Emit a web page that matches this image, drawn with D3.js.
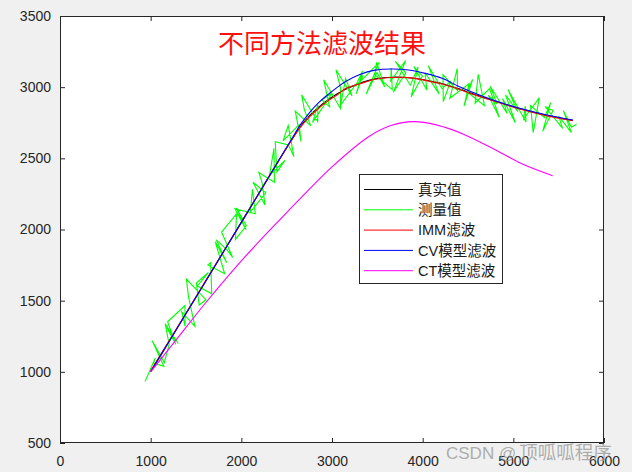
<!DOCTYPE html>
<html>
<head>
<meta charset="utf-8">
<script src="https://cdn.jsdelivr.net/npm/d3@7"></script>
<style>
  html, body { margin: 0; padding: 0; background: #f0f0f0; }
  svg { display: block; }
</style>
</head>
<body>
<svg id="chart" width="632" height="472"></svg>
<script>
// ---------------- data ----------------
const titleText = "不同方法滤波结果";
const legendLabels = ["真实值", "测量值", "IMM滤波", "CV模型滤波", "CT模型滤波"];
const seriesColors = ["#000000", "#00ff00", "#ff0000", "#0000ff", "#ff00ff"];
const xTicks = [0, 1000, 2000, 3000, 4000, 5000, 6000];
const yTicks = [500, 1000, 1500, 2000, 2500, 3000, 3500];

// true trajectory
const trueX = [1000,1200,1400,1600,1800,2000,2200,2400,2550,2650,2750,2850,2950,3050,3150,3300,3475,3660,3845,4029,4214,4400,4550,4800,5050,5360,5656];
const trueY = [1000,1210,1420,1630,1840,2050,2260,2470,2625,2722,2798,2858,2908,2950,2985,3025,3058,3070,3066,3050,3025,2988,2955,2902,2853,2803,2767];

// measurements
const measX = [938,1051,1033,1146,1017,1150,1204,1160,1305,1177,1277,1187,1378,1380,1343,1488,1418,1394,1611,1535,
  1504,1637,1515,1673,1662,1631,1816,1713,1839,1724,1850,1904,1782,1947,1935,2055,1946,2052,1930,2154,
  2123,2099,2270,2129,2261,2230,2193,2365,2360,2310,2481,2392,2374,2520,2580,2517,2460,2638,
  2659,2595,2766,2696,2665,2842,2844,2786,3003,2887,2973,2909,3093,3095,3044,3221,3151,3094,3278,3338,
  3267,3341,3290,3519,3377,3496,3582,3492,3474,3665,3653,3648,3812,3677,3815,3699,3864,3950,3873,3998,3902,4047,4028,
  4034,4181,4061,4214,4309,4227,4224,4384,4381,4300,4512,4456,4551,4489,4682,4613,4578,4738,4845,4725,
  4820,4745,4931,4882,5022,4915,5049,4941,5140,5131,5114,5287,5219,5190,5343,5412,5324,5438,5350,5543,5500,5641,5553,5641,5697];
const measY = [931,1097,1061,1039,1218,1065,1192,1338,1199,1313,1193,1352,1466,1320,1421,1320,1525,1652,1506,1470,
  1624,1698,1603,1549,1767,1751,1689,1913,1767,1927,1852,1803,1982,2110,1930,2026,2152,1999,2146,2110,
  2283,2123,2257,2332,2172,2326,2401,2332,2570,2378,2486,2404,2616,2594,2512,2731,2623,2737,
  2617,2832,2728,2839,2947,2759,2878,2753,2959,2911,2862,3052,2850,2993,3122,2939,3061,2874,3033,3114,
  2953,3084,3025,3174,2952,3103,3001,3174,3086,2983,3135,3044,3187,2965,3101,3182,3014,3142,2931,3078,3145,2979,3085,
  3095,2953,3151,2989,3043,2899,3087,2976,3131,2922,3025,2867,3054,2968,2870,3090,2887,2990,2787,2943,
  2882,3006,2816,2920,2750,2945,2827,2983,2756,2867,2776,2927,2681,2870,2786,2891,2690,2836,2864,2710,2796,2681,2834,2719,2740];

// IMM filter
const immX = [1000,1200,1400,1600,1800,2000,2200,2400,2550,2650,2750,2850,2950,3050,3150,3300,3475,3660,3845,4029,4214,4400,4550,4800,5050,5360,5656];
const immY = [1008,1215,1422,1632,1842,2050,2262,2472,2624,2718,2790,2850,2902,2942,2990,3022,3056,3068,3067,3048,3022,2985,2950,2900,2850,2800,2765];

// CV model filter
const cvX = [1000,1200,1400,1600,1800,2000,2200,2400,2550,2650,2750,2850,2950,3050,3150,3300,3475,3660,3845,4029,4214,4400,4550,4800,5050,5360,5656];
const cvY = [1000,1210,1420,1630,1840,2050,2260,2472,2630,2735,2820,2890,2945,2995,3040,3088,3120,3128,3121,3097,3062,3005,2965,2905,2855,2806,2769];

// CT model filter
const ctX = [1000,1300,1600,2000,2440,2700,3000,3400,3650,3900,4150,4450,4800,5100,5434];
const ctY = [1000,1240,1480,1780,2079,2250,2440,2650,2730,2758,2735,2670,2560,2460,2378];

// ---------------- chart ----------------
const svg = d3.select("#chart");
const L = 60, R = 604, T = 16, B = 443;
const x = d3.scaleLinear().domain([0, 6000]).range([L, R]);
const y = d3.scaleLinear().domain([500, 3500]).range([B, T]);

svg.append("rect").attr("width", 632).attr("height", 472).attr("fill", "#f0f0f0");
svg.append("rect").attr("x", L).attr("y", T).attr("width", R - L).attr("height", B - T).attr("fill", "#ffffff");

svg.append("defs").append("clipPath").attr("id", "clip")
  .append("rect").attr("x", L).attr("y", T).attr("width", R - L).attr("height", B - T);

const plot = svg.append("g").attr("clip-path", "url(#clip)");

function zip(xs, ys) { return xs.map((v, i) => [v, ys[i]]); }
const smooth = d3.line().x(d => x(d[0])).y(d => y(d[1])).curve(d3.curveCatmullRom.alpha(0.5));
const straight = d3.line().x(d => x(d[0])).y(d => y(d[1]));

const series = [
  { data: zip(trueX, trueY), gen: smooth, color: seriesColors[0] },
  { data: zip(measX, measY), gen: straight, color: seriesColors[1] },
  { data: zip(immX, immY), gen: smooth, color: seriesColors[2] },
  { data: zip(cvX, cvY), gen: smooth, color: seriesColors[3] },
  { data: zip(ctX, ctY), gen: smooth, color: seriesColors[4] }
];
series.forEach(s => {
  plot.append("path").attr("d", s.gen(s.data)).attr("fill", "none")
    .attr("stroke", s.color).attr("stroke-width", 1.1).attr("stroke-linejoin", "miter");
});

// axes
const axisColor = "#262626";
const fontFam = "'Liberation Sans', Arial, 'Noto Sans CJK SC', sans-serif";
function styleAxis(g) {
  g.select(".domain").remove();
  g.selectAll(".tick line").attr("stroke", axisColor);
  g.selectAll(".tick text").attr("fill", axisColor).style("font-family", fontFam).style("font-size", "14px");
}
svg.append("g").attr("transform", `translate(0,${B})`)
  .call(d3.axisBottom(x).tickValues(xTicks).tickFormat(d3.format("d")).tickSizeInner(-5).tickSizeOuter(0).tickPadding(13))
  .call(styleAxis);
svg.append("g").attr("transform", `translate(${L},0)`)
  .call(d3.axisLeft(y).tickValues(yTicks).tickFormat(d3.format("d")).tickSizeInner(-5).tickSizeOuter(0).tickPadding(9))
  .call(styleAxis);
svg.append("g").attr("transform", `translate(0,${T})`)
  .call(d3.axisTop(x).tickValues(xTicks).tickFormat("").tickSizeInner(-5).tickSizeOuter(0))
  .call(styleAxis);
svg.append("g").attr("transform", `translate(${R},0)`)
  .call(d3.axisRight(y).tickValues(yTicks).tickFormat("").tickSizeInner(-5).tickSizeOuter(0))
  .call(styleAxis);
svg.append("rect").attr("x", L + 0.5).attr("y", T + 0.5).attr("width", R - L - 1).attr("height", B - T - 1)
  .attr("fill", "none").attr("stroke", axisColor).attr("stroke-width", 1);

// title
svg.append("text").attr("x", 322).attr("y", 53).attr("text-anchor", "middle")
  .attr("fill", "#ff1010").style("font-family", "'Noto Sans CJK SC', sans-serif").style("font-size", "26px")
  .text(titleText);

// legend
const lg = svg.append("g");
lg.append("rect").attr("x", 359.5).attr("y", 174.5).attr("width", 143).attr("height", 109)
  .attr("fill", "#ffffff").attr("stroke", axisColor).attr("stroke-width", 1);
legendLabels.forEach((lab, i) => {
  const yy = 189.5 + i * 20.3;
  lg.append("line").attr("x1", 364).attr("x2", 413).attr("y1", yy).attr("y2", yy)
    .attr("stroke", seriesColors[i]).attr("stroke-width", 1);
  lg.append("text").attr("x", 418).attr("y", yy).attr("dy", "0.36em")
    .attr("fill", "#1a1a1a").style("font-family", fontFam).style("font-size", "14.5px").text(lab);
});

// watermark
const wm = svg.append("text").attr("x", 446).attr("y", 459)
  .attr("fill", "#9a9a9a").attr("fill-opacity", 0.8)
  .style("font-family", "'Liberation Sans', Arial, 'Noto Sans CJK SC', sans-serif");
wm.append("tspan").style("font-size", "17px").text("CSDN @");
wm.append("tspan").attr("dx", 3).style("font-size", "18.5px").style("font-family", "'Noto Sans CJK SC', sans-serif").text("顶呱呱程序");
</script>
</body>
</html>
